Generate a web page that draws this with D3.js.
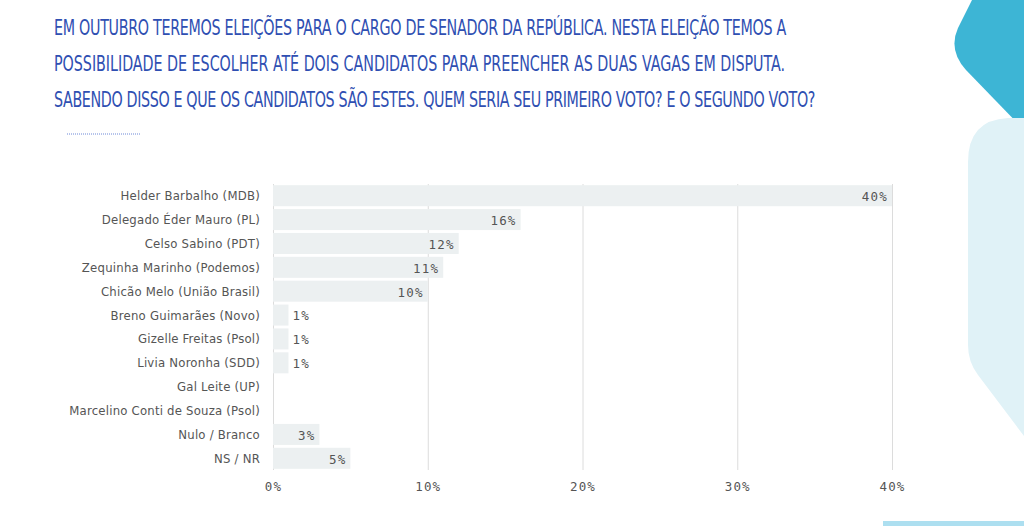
<!DOCTYPE html>
<html>
<head>
<meta charset="utf-8">
<script src="https://cdn.jsdelivr.net/npm/d3@7"></script>
<style>
  body { margin: 0; background: #fff; }
  svg { display: block; }
  .title { font-family: "DejaVu Sans Condensed", "DejaVu Sans", sans-serif; font-stretch: condensed; fill: #2f4fb2; }
  .cat { font-family: "DejaVu Sans Condensed", "DejaVu Sans", sans-serif; font-stretch: condensed; font-size: 13px; fill: #555; }
  .val, .tick text { font-family: "DejaVu Sans Mono", monospace; font-size: 12.5px; fill: #555; letter-spacing: 1.2px; }
</style>
</head>
<body>
<svg></svg>
<script>
const w = 1024;
const h = 526;

// data
const categories = [
  'Helder Barbalho (MDB)',
  'Delegado Éder Mauro (PL)',
  'Celso Sabino (PDT)',
  'Zequinha Marinho (Podemos)',
  'Chicão Melo (União Brasil)',
  'Breno Guimarães (Novo)',
  'Gizelle Freitas (Psol)',
  'Livia Noronha (SDD)',
  'Gal Leite (UP)',
  'Marcelino Conti de Souza (Psol)',
  'Nulo / Branco',
  'NS / NR'
];
const values = [40, 16, 12, 11, 10, 1, 1, 1, 0, 0, 3, 5];
const tickValues = [0, 10, 20, 30, 40];
const titleLines = [
  'EM OUTUBRO TEREMOS ELEIÇÕES PARA O CARGO DE SENADOR DA REPÚBLICA. NESTA ELEIÇÃO TEMOS A',
  'POSSIBILIDADE DE ESCOLHER ATÉ DOIS CANDIDATOS PARA PREENCHER AS DUAS VAGAS EM DISPUTA.',
  'SABENDO DISSO E QUE OS CANDIDATOS SÃO ESTES. QUEM SERIA SEU PRIMEIRO VOTO? E O SEGUNDO VOTO?'
];

const svg = d3.select('svg')
  .attr('width', w)
  .attr('height', h);

// decorative shapes on the right
svg.append('path')
  .attr('d', 'M972,0 L1024,0 L1024,130 L966,70 Q948,50 958,28 Z')
  .attr('fill', '#3db5d5');
svg.append('path')
  .attr('d', 'M1024,118 L1008,118 Q968,120 968,162 L968,345 Q968,362 978,375 L1024,436 Z')
  .attr('fill', '#e0f2f7');
svg.append('rect')
  .attr('x', 883).attr('y', 521).attr('width', 141).attr('height', 5)
  .attr('fill', '#addff0');

// title: tall narrow glyphs, spaced out to the reference line widths
const lineWidths = [732, 731, 761];
const lineY = [35, 71, 107];
const sx = 0.74;
svg.selectAll('.title')
  .data(titleLines)
  .enter()
  .append('text')
  .attr('class', 'title')
  .attr('transform', (d, i) => 'translate(54,' + lineY[i] + ') scale(' + sx + ',1)')
  .attr('font-size', 21.5)
  .text(d => d)
  .each(function(d, i) {
    const natural = this.getComputedTextLength();
    const ls = (lineWidths[i] / sx - natural) / d.length;
    d3.select(this).style('letter-spacing', ls + 'px');
  });

svg.append('line')
  .attr('x1', 67).attr('x2', 141).attr('y1', 134).attr('y2', 134)
  .attr('stroke', '#6f8ad8').attr('stroke-width', 1.2)
  .attr('stroke-dasharray', '1,1');

// scales
const x = d3.scaleLinear()
  .domain([0, 40])
  .range([273, 892]);

const y = d3.scaleBand()
  .domain(categories)
  .range([184, 470])
  .paddingInner(0.12)
  .paddingOuter(0.05);

// grid
svg.append('g')
  .attr('transform', 'translate(0,470)')
  .call(d3.axisBottom(x).tickValues(tickValues).tickSize(-286).tickFormat(''))
  .call(g => g.select('.domain').remove())
  .call(g => g.selectAll('line').attr('stroke', '#dcdcdc'));

// bars
svg.selectAll('.bar')
  .data(values)
  .enter()
  .append('rect')
  .attr('class', 'bar')
  .attr('x', x(0))
  .attr('y', (d, i) => y(categories[i]))
  .attr('width', d => x(d) - x(0))
  .attr('height', y.bandwidth())
  .attr('fill', '#ecf0f1');

// value labels
svg.selectAll('.val')
  .data(values.map((v, i) => [categories[i], v]).filter(d => d[1] > 0))
  .enter()
  .append('text')
  .attr('class', 'val')
  .attr('x', d => d[1] < 2 ? x(d[1]) + 4 : x(d[1]) - 4)
  .attr('y', d => y(d[0]) + y.bandwidth() / 2 + 1)
  .attr('dy', '0.35em')
  .attr('text-anchor', d => d[1] < 2 ? 'start' : 'end')
  .text(d => d[1] + '%');

// category labels
svg.selectAll('.cat')
  .data(categories)
  .enter()
  .append('text')
  .attr('class', 'cat')
  .attr('x', 260)
  .attr('y', d => y(d) + y.bandwidth() / 2)
  .attr('dy', '0.35em')
  .attr('text-anchor', 'end')
  .text(d => d)
  .each(function() {
    // stretch to the label width seen in the reference (slightly spaced letters)
    const n = this.textContent.length;
    d3.select(this).style('letter-spacing', (this.getComputedTextLength() * 0.035 / n) + 'px');
  });

// x axis
svg.append('g')
  .attr('transform', 'translate(0,478)')
  .call(d3.axisBottom(x).tickValues(tickValues).tickSize(0).tickPadding(4).tickFormat(d => d + '%'))
  .call(g => g.select('.domain').remove());
</script>
</body>
</html>
